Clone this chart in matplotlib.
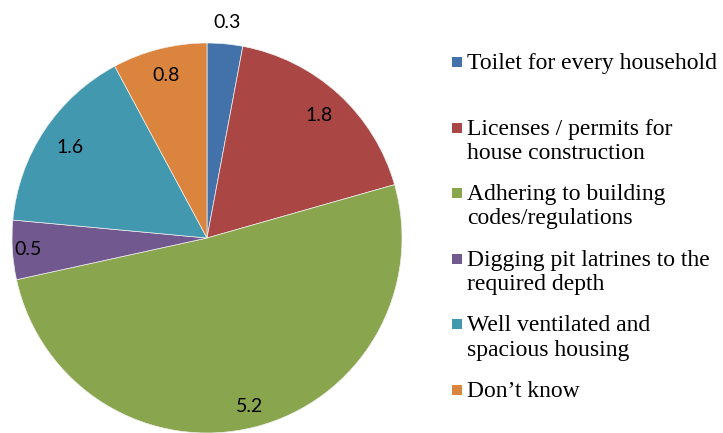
import matplotlib
matplotlib.use("Agg")
import matplotlib.pyplot as plt
from matplotlib.patches import Rectangle
from matplotlib.font_manager import FontProperties, findfont
import numpy as np

categories = [
    "Toilet for every household",
    "Licenses / permits for\nhouse construction",
    "Adhering to building\ncodes/regulations",
    "Digging pit latrines to the\nrequired depth",
    "Well ventilated and\nspacious housing",
    "Don\u2019t know",
]
values = [0.3, 1.8, 5.2, 0.5, 1.6, 0.8]
value_labels = ["0.3", "1.8", "5.2", "0.5", "1.6", "0.8"]

colors = ["#4372AA", "#AA4644", "#89A54E", "#71588F", "#4198AF", "#DB843D"]
label_dist = [1.11, 0.85, 0.89, 0.92, 0.84, 0.86]

serif_path = findfont(FontProperties(family="Liberation Serif"))
legend_fp = FontProperties(fname=serif_path, size=17)

W, H = 723, 433
fig = plt.figure(figsize=(W / 100, H / 100), dpi=100)
cx, cy, R = 207, 433 - 238, 195
ax = fig.add_axes([(cx - R) / W, (cy - R) / H, 2 * R / W, 2 * R / H])
wedges, _ = ax.pie(values, colors=colors, startangle=90, counterclock=False,
                   radius=1.0, wedgeprops=dict(linewidth=0.5, edgecolor="#f0f0f0"))
ax.set_xlim(-1, 1)
ax.set_ylim(-1, 1)
ax.set_aspect("equal")
ax.axis("off")

for w, lab, d in zip(wedges, value_labels, label_dist):
    th = np.deg2rad((w.theta1 + w.theta2) / 2)
    ax.text(d * np.cos(th), d * np.sin(th), lab, ha="center", va="center",
            fontsize=14, family=["Lato", "DejaVu Sans"], color="black", clip_on=False)

# legend
y0 = 62
step = 65.6
for i, (lab, c) in enumerate(zip(categories, colors)):
    yc = y0 + i * step
    fig.patches.append(Rectangle((452 / W, 1 - (yc + 5) / H), 10 / W, 10 / H,
                                 transform=fig.transFigure, facecolor=c,
                                 edgecolor="none"))
    fig.text(467 / W, 1 - (yc - 9) / H, lab, ha="left", va="top",
             fontproperties=legend_fp, linespacing=1.2, color="black")

fig.savefig("out.png", dpi=100)
